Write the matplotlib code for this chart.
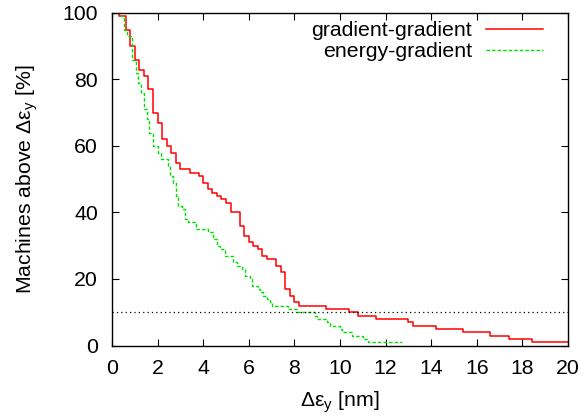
import numpy as np
import matplotlib
matplotlib.use('Agg')
import matplotlib.pyplot as plt

plt.rcParams['font.family'] = ['Liberation Sans', 'DejaVu Sans']
plt.rcParams['mathtext.fontset'] = 'custom'
plt.rcParams['mathtext.rm'] = 'Liberation Sans'
plt.rcParams['mathtext.it'] = 'Liberation Sans'

# step positions (nm) and percentage of machines left after each step
gg_x = [0.0, 0.3, 0.6, 0.8, 1.0, 1.2, 1.4, 1.6, 1.8, 2.0, 2.2, 2.4, 2.6, 2.8, 3.0,
        3.4, 3.8, 4.0, 4.2, 4.4, 4.6, 4.8, 5.0, 5.2, 5.6, 5.8, 6.0, 6.2, 6.4,
        6.6, 6.8, 7.2, 7.4, 7.6, 7.8, 8.0, 8.2, 9.4, 10.4, 10.8, 11.6, 13.0,
        13.2, 14.2, 15.4, 16.6, 17.4, 18.4, 20.0]
gg_y = [100, 99, 95, 90, 86, 83, 81, 77, 70, 67, 62, 60, 58, 55, 53,
        52, 51, 49, 47, 46, 45, 44, 43, 40, 36, 33, 31, 30, 29,
        27, 26, 24, 22, 17, 15, 13, 12, 11, 10, 9, 8, 7,
        6, 5, 4, 3, 2, 1, 1]

eg_x = [0.0, 0.4, 0.53, 0.64, 0.86, 1.05, 1.15, 1.27, 1.40, 1.52, 1.62, 1.81,
        2.0, 2.15, 2.45, 2.55, 2.69, 2.79, 2.91, 3.06, 3.20, 3.35, 3.70, 4.20,
        4.42, 4.59, 4.74, 4.96, 5.32, 5.47, 5.69, 5.83, 6.05, 6.13, 6.42, 6.50,
        6.64, 6.78, 6.93, 7.0, 7.73, 8.1, 8.9, 8.98, 9.42, 9.56, 10.0, 10.07,
        10.51, 11.02, 11.24, 12.7]
eg_y = [100, 99, 95, 93, 86, 82, 79, 76, 71, 68, 64, 60,
        58, 56, 54, 51, 49, 45, 42, 41, 38, 37, 35, 34,
        32, 30, 29, 27, 25, 24, 23, 21, 20, 18, 17, 16,
        15, 14, 13, 12, 11, 10, 9, 8, 7, 6, 5, 4,
        3, 2, 1, 1]

threshold = 10

fs = 15.3

fig = plt.figure(figsize=(5.84, 4.17), dpi=100)
ax = fig.add_axes([112/584, 1-345.5/417, 456/584, 332.5/417])

ax.step(gg_x, gg_y, where='post', color='#ff0000', lw=1.1, label='gradient-gradient')
ax.step(eg_x, eg_y, where='post', color='#00e000', lw=1.0, ls=(0, (2.5, 1.5)),
        label='energy-gradient')
ax.axhline(threshold, color='black', lw=0.9, ls=(0, (1, 2.5)))

ax.set_xlim(0, 20)
ax.set_ylim(0, 100)
ax.set_xticks(np.arange(0, 21, 2))
ax.set_yticks(np.arange(0, 101, 20))
ax.tick_params(direction='in', top=True, right=True, length=5, width=0.8,
               labelsize=fs, pad=10)
for s in ax.spines.values():
    s.set_linewidth(1.0)

ax.set_xlabel('Δε$_\\mathrm{y}$ [nm]', fontsize=fs, labelpad=8)
ax.set_ylabel('Machines above Δε$_\\mathrm{y}$ [%]', fontsize=fs, labelpad=16)

leg = ax.legend(loc='upper right', frameon=False, fontsize=fs, markerfirst=False,
                handlelength=2.7, handletextpad=0.65, labelspacing=0.1,
                borderaxespad=0, borderpad=0,
                bbox_to_anchor=(543/584, 1-21/417), bbox_transform=fig.transFigure)
for t in leg.get_texts():
    t.set_ha('right')
leg._legend_box.align = 'right'

fig.savefig('out.png', dpi=100)
